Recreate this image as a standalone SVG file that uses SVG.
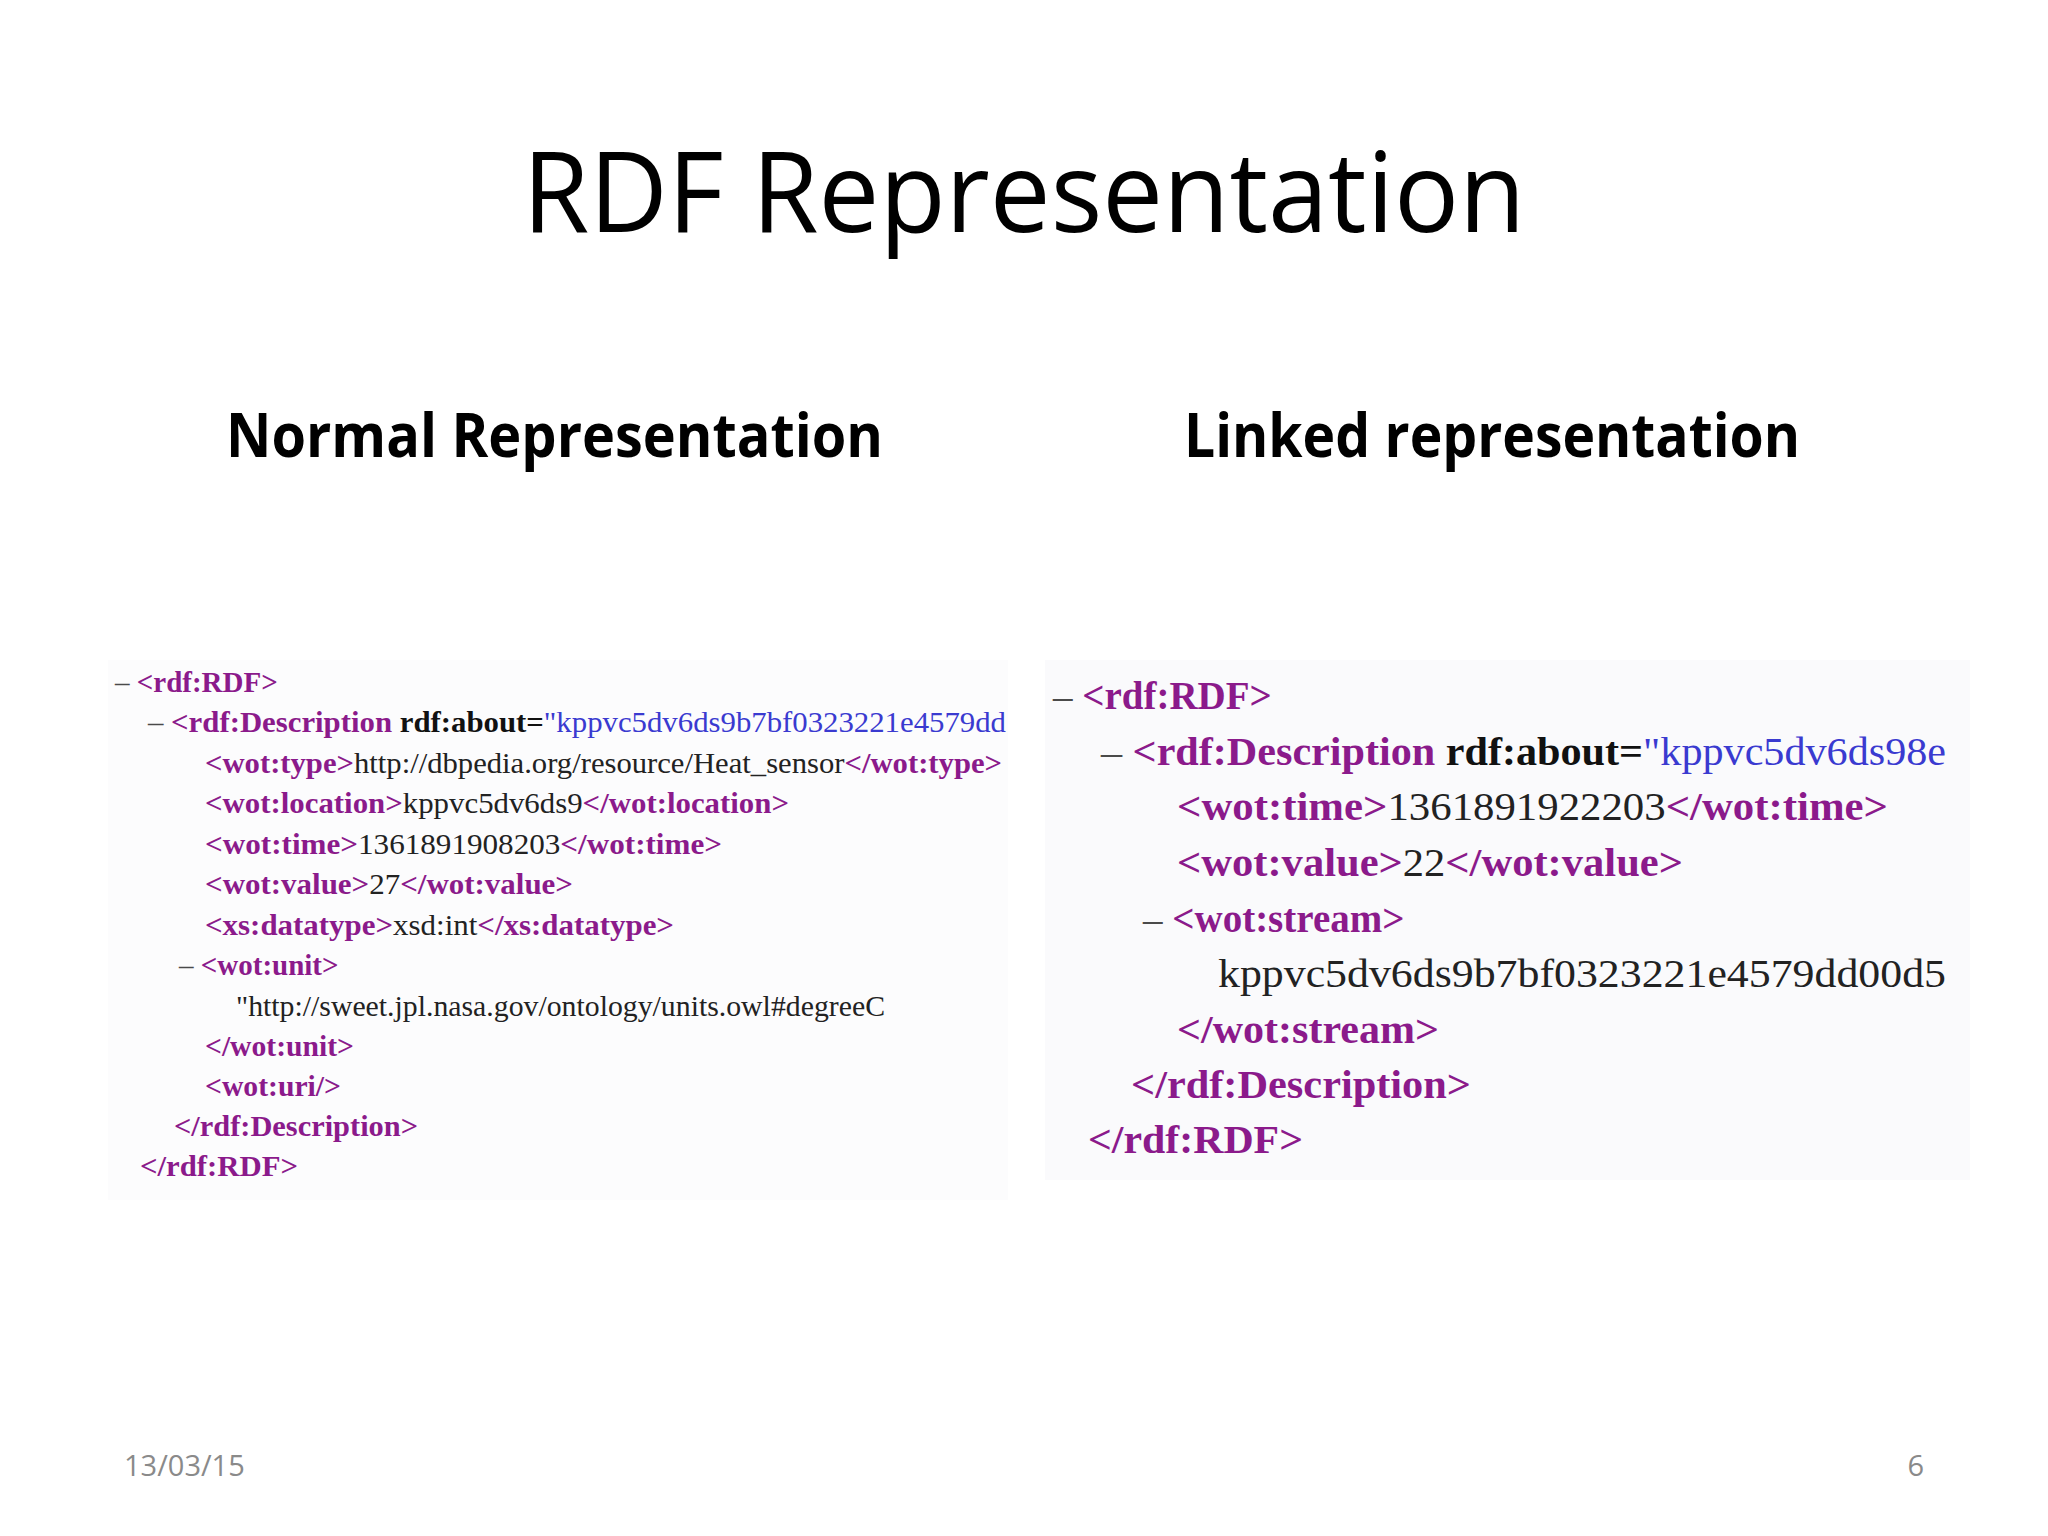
<svg xmlns="http://www.w3.org/2000/svg" width="2048" height="1536" viewBox="0 0 2048 1536">
<style>
.c{font-family:"Liberation Serif","DejaVu Serif",serif;fill:#222}
.l{font-size:29px}
.r{font-size:39px}
.t{fill:#8b1a8b;font-weight:bold}
.k{fill:#4a4a4a}
.v{fill:#3a3ad0}
.a{font-weight:bold;fill:#111}
.h{font-family:"Open Sans","Noto Sans",sans-serif;fill:#000}
</style>
<defs>
<clipPath id="cl"><rect x="100" y="650" width="908" height="560"/></clipPath>
<clipPath id="cr"><rect x="1040" y="650" width="908" height="540"/></clipPath>
</defs>
<rect width="2048" height="1536" fill="#fff"/>
<rect x="108" y="660" width="900" height="540" fill="#fcfcfd"/>
<rect x="1045" y="660" width="925" height="520" fill="#fafafc"/>
<g id="title"><text class="h" x="1024" y="232" font-size="112" text-anchor="middle" textLength="1003" lengthAdjust="spacingAndGlyphs">RDF Representation</text></g>
<g id="head-left"><text class="h" x="226" y="457" font-size="60" font-weight="bold" textLength="657" lengthAdjust="spacingAndGlyphs">Normal Representation</text></g>
<g id="head-right"><text class="h" x="1184" y="457" font-size="60" font-weight="bold" textLength="616" lengthAdjust="spacingAndGlyphs">Linked representation</text></g>
<g id="code-left" class="c l" clip-path="url(#cl)">
<text x="115" y="692"><tspan class="k">– </tspan><tspan class="t">&lt;rdf:RDF&gt;</tspan></text>
<text x="148" y="732" textLength="858" lengthAdjust="spacingAndGlyphs"><tspan class="k">– </tspan><tspan class="t">&lt;rdf:Description</tspan> <tspan class="a">rdf:about=</tspan><tspan class="v">"kppvc5dv6ds9b7bf0323221e4579dd</tspan></text>
<text x="205" y="773" textLength="797" lengthAdjust="spacingAndGlyphs"><tspan class="t">&lt;wot:type&gt;</tspan>http://dbpedia.org/resource/Heat_sensor<tspan class="t">&lt;/wot:type&gt;</tspan></text>
<text x="205" y="813" textLength="584" lengthAdjust="spacingAndGlyphs"><tspan class="t">&lt;wot:location&gt;</tspan>kppvc5dv6ds9<tspan class="t">&lt;/wot:location&gt;</tspan></text>
<text x="205" y="854" textLength="517" lengthAdjust="spacingAndGlyphs"><tspan class="t">&lt;wot:time&gt;</tspan>1361891908203<tspan class="t">&lt;/wot:time&gt;</tspan></text>
<text x="205" y="894" textLength="368" lengthAdjust="spacingAndGlyphs"><tspan class="t">&lt;wot:value&gt;</tspan>27<tspan class="t">&lt;/wot:value&gt;</tspan></text>
<text x="205" y="935" textLength="469" lengthAdjust="spacingAndGlyphs"><tspan class="t">&lt;xs:datatype&gt;</tspan>xsd:int<tspan class="t">&lt;/xs:datatype&gt;</tspan></text>
<text x="179" y="975"><tspan class="k">– </tspan><tspan class="t">&lt;wot:unit&gt;</tspan></text>
<text x="236" y="1016" textLength="649" lengthAdjust="spacingAndGlyphs">"http://sweet.jpl.nasa.gov/ontology/units.owl#degreeC</text>
<text x="205" y="1056" textLength="149" lengthAdjust="spacingAndGlyphs"><tspan class="t">&lt;/wot:unit&gt;</tspan></text>
<text x="205" y="1096" textLength="136" lengthAdjust="spacingAndGlyphs"><tspan class="t">&lt;wot:uri/&gt;</tspan></text>
<text x="174" y="1136" textLength="244" lengthAdjust="spacingAndGlyphs"><tspan class="t">&lt;/rdf:Description&gt;</tspan></text>
<text x="140" y="1176" textLength="158" lengthAdjust="spacingAndGlyphs"><tspan class="t">&lt;/rdf:RDF&gt;</tspan></text>
</g>
<g id="code-right" class="c r" clip-path="url(#cr)">
<text x="1053" y="709"><tspan class="k">– </tspan><tspan class="t">&lt;rdf:RDF&gt;</tspan></text>
<text x="1101" y="765" textLength="845" lengthAdjust="spacingAndGlyphs"><tspan class="k">– </tspan><tspan class="t">&lt;rdf:Description</tspan> <tspan class="a">rdf:about=</tspan><tspan class="v">"kppvc5dv6ds98e</tspan></text>
<text x="1177" y="820" textLength="711" lengthAdjust="spacingAndGlyphs"><tspan class="t">&lt;wot:time&gt;</tspan>1361891922203<tspan class="t">&lt;/wot:time&gt;</tspan></text>
<text x="1177" y="876" textLength="506" lengthAdjust="spacingAndGlyphs"><tspan class="t">&lt;wot:value&gt;</tspan>22<tspan class="t">&lt;/wot:value&gt;</tspan></text>
<text x="1143" y="932"><tspan class="k">– </tspan><tspan class="t">&lt;wot:stream&gt;</tspan></text>
<text x="1218" y="987" textLength="728" lengthAdjust="spacingAndGlyphs">kppvc5dv6ds9b7bf0323221e4579dd00d5</text>
<text x="1177" y="1043" textLength="262" lengthAdjust="spacingAndGlyphs"><tspan class="t">&lt;/wot:stream&gt;</tspan></text>
<text x="1131" y="1098" textLength="340" lengthAdjust="spacingAndGlyphs"><tspan class="t">&lt;/rdf:Description&gt;</tspan></text>
<text x="1088" y="1153" textLength="215" lengthAdjust="spacingAndGlyphs"><tspan class="t">&lt;/rdf:RDF&gt;</tspan></text>
</g>
<g id="footer">
<text class="h" x="124" y="1476" font-size="29" style="fill:#8a8a8a">13/03/15</text>
<text class="h" x="1924" y="1476" font-size="29" text-anchor="end" style="fill:#8a8a8a">6</text>
</g>
</svg>
